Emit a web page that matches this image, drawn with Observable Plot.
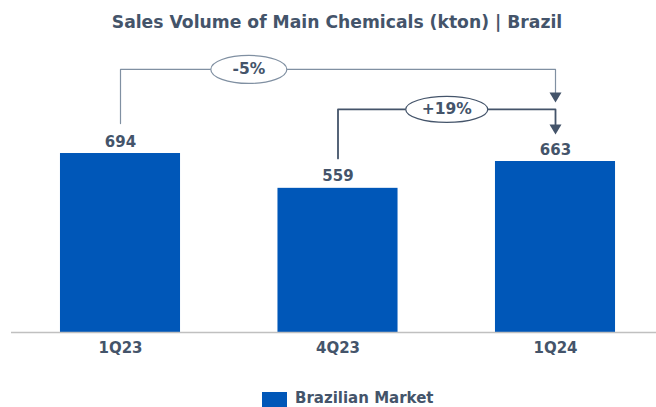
<!DOCTYPE html>
<html>
<head>
<meta charset="utf-8">
<script src="https://cdn.jsdelivr.net/npm/d3@7"></script>
<script src="https://cdn.jsdelivr.net/npm/@observablehq/plot@0.6"></script>
<style>
  body { margin: 0; background: #fff; width: 656px; overflow: hidden; font-family: "DejaVu Sans", sans-serif; }
  #title { height: 44px; line-height: 44px; text-align: center; padding-left: 18px; font-size: 17.2px; font-weight: bold; color: #44546a; }
  #legend { display: flex; align-items: flex-start; padding-left: 262px; padding-top: 2px; font-size: 15px; font-weight: bold; color: #44546a; }
  #legend .sw { width: 25px; height: 16px; margin-top: 2px; background: #0057b8; margin-right: 8px; }
  #legend span { line-height: 17px; }
</style>
</head>
<body>
<div id="title">Sales Volume of Main Chemicals (kton) | Brazil</div>
<div id="chart"></div>
<div id="legend"><div class="sw"></div><span>Brazilian Market</span></div>
<script>
const quarters = ["1Q23", "4Q23", "1Q24"];
const values = [694, 559, 663];
const seriesName = "Brazilian Market";

// comparison annotations: from/to are quarter indexes, levels in kton units
const compLabels = ["-5%", "+19%"];
const compFrom = [0, 1];
const compTo = [2, 2];
const compLabelAt = [0.59, 1.5];
const compLevel = [1020, 865];
const compStart = [810, 675];
const compEnd = [892, 768];

const rows = quarters.map((q, i) => ({i, q, value: values[i]}));

const ink = "#44546a";
const blue = "#0057b8";
const connColors = ["#8090a2", ink];
const connWidths = [1.2, 1.8];
const ellipseR = [[38, 14], [41, 13]];

function ellipseSymbol(rx, ry) {
  return {
    draw(c) {
      const k = 0.5523, ox = rx * k, oy = ry * k;
      c.moveTo(-rx, 0);
      c.bezierCurveTo(-rx, -oy, -ox, -ry, 0, -ry);
      c.bezierCurveTo(ox, -ry, rx, -oy, rx, 0);
      c.bezierCurveTo(rx, oy, ox, ry, 0, ry);
      c.bezierCurveTo(-ox, ry, -rx, oy, -rx, 0);
      c.closePath();
    }
  };
}
const arrowSymbol = {
  draw(c) {
    c.moveTo(-6, -10);
    c.lineTo(6, -10);
    c.lineTo(0, 0);
    c.closePath();
  }
};

const connMarks = [];
compLabels.forEach((lab, k) => {
  const pts = [
    {x: compFrom[k], y: compStart[k]},
    {x: compFrom[k], y: compLevel[k]},
    {x: compTo[k], y: compLevel[k]},
    {x: compTo[k], y: compEnd[k] + 15}
  ];
  connMarks.push(Plot.line(pts, {x: "x", y: "y", stroke: connColors[k], strokeWidth: connWidths[k], curve: "linear"}));
  connMarks.push(Plot.dot([{x: compTo[k], y: compEnd[k]}], {x: "x", y: "y", symbol: arrowSymbol, fill: ink, stroke: "none", r: 5}));
  connMarks.push(Plot.dot([{x: compLabelAt[k], y: compLevel[k]}], {x: "x", y: "y", symbol: ellipseSymbol(ellipseR[k][0], ellipseR[k][1]), fill: "white", stroke: connColors[k], strokeWidth: 1.2, r: 10}));
  connMarks.push(Plot.text([{x: compLabelAt[k], y: compLevel[k], t: lab}], {x: "x", y: "y", text: "t", fill: ink, fontSize: 15.5, fontWeight: "bold", textAnchor: "middle", lineAnchor: "middle"}));
});

const chart = Plot.plot({
  width: 656,
  height: 344,
  marginTop: 0,
  marginLeft: 11,
  marginRight: 0,
  marginBottom: 56,
  style: {fontFamily: "DejaVu Sans", fontSize: "15px", color: ink, overflow: "visible", background: "white"},
  x: {type: "linear", domain: [-0.5, 2.5], range: [11.25, 663.75]},
  y: {domain: [0, 1100], range: [288, 4.3], axis: null},
  marks: [
    Plot.rectY(rows, {x1: d => d.i - 0.276, x2: d => d.i + 0.276, y: "value", fill: blue}),
    Plot.ruleY([0], {stroke: "#c0c0c0", strokeWidth: 1.5}),
    Plot.axisX([0, 1, 2], {tickFormat: i => quarters[i], tickSize: 0, tickPadding: 10, fontSize: 15, fontWeight: "bold", color: ink, label: null}),
    Plot.text(rows, {x: "i", y: "value", text: d => String(d.value), dy: -7, lineAnchor: "bottom", fontSize: 15, fontWeight: "bold", fill: ink}),
    ...connMarks
  ]
});
document.getElementById("chart").appendChild(chart);
</script>
</body>
</html>
